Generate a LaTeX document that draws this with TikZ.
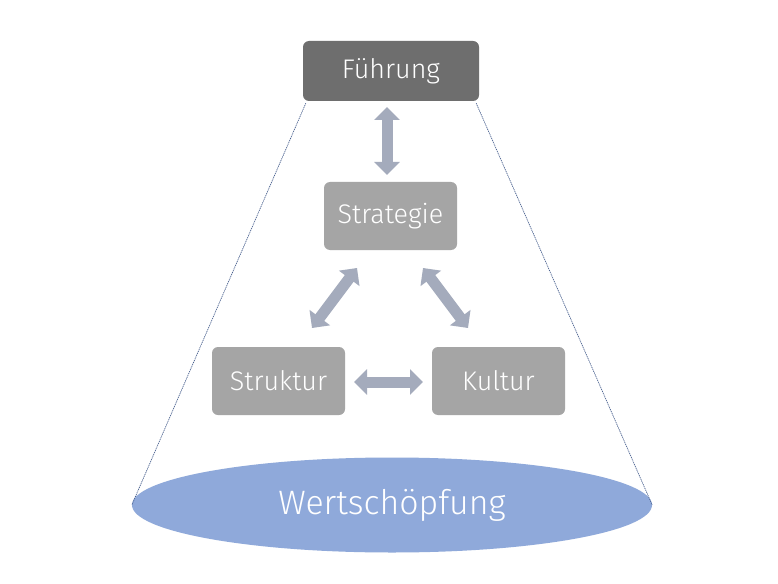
\documentclass[tikz,border=0pt]{standalone}
\usepackage{fontspec}
\setmainfont{Fira Sans}[UprightFont=* Light]
\usetikzlibrary{arrows.meta,shapes.geometric}
\definecolor{dark}{HTML}{6E6E6E}
\definecolor{mid}{HTML}{A5A5A5}
\definecolor{arr}{HTML}{A4ABBC}
\definecolor{ell}{HTML}{8FA9DA}
\definecolor{guide}{HTML}{4A6290}
\tikzset{
  box/.style={rounded corners=6bp, minimum width=133bp, minimum height=68bp, text=white, font=\fontsize{27}{32}\selectfont, inner sep=0pt},
  dbl/.style={arr, line width=11bp, {Triangle[length=13bp,width=25bp]}-{Triangle[length=13bp,width=25bp]}},
  guideline/.style={guide, line width=0.7bp, dash pattern=on 1.2bp off 0.8bp}
}
\begin{document}
\begin{tikzpicture}[x=1bp,y=-1bp]
\useasboundingbox (0,0) rectangle (778,584);
\fill[white] (0,0) rectangle (778,584);
\node[box, fill=dark, minimum width=176bp, minimum height=60bp] (fuehrung) at (391,71) {Führung};
\node[box, fill=mid] (strategie) at (390.5,216) {Strategie};
\node[box, fill=mid] (struktur) at (278.5,381) {Struktur};
\node[box, fill=mid] (kultur) at (498.5,381) {Kultur};
\node[ellipse, fill=ell, minimum width=520bp, minimum height=95bp, text=white, font=\fontsize{34}{40}\selectfont, inner sep=0pt] (wert) at (392,505) {Wertschöpfung};
\coordinate (a1) at (387,107);
\coordinate (a2) at (387,175);
\coordinate (b1) at (357,268);
\coordinate (b2) at (312,328);
\coordinate (c1) at (423,268);
\coordinate (c2) at (468,328);
\coordinate (d1) at (354,382);
\coordinate (d2) at (423,382);
\draw[dbl] (a1) -- (a2);
\draw[dbl] (b1) -- (b2);
\draw[dbl] (c1) -- (c2);
\draw[dbl] (d1) -- (d2);
\draw[guideline] ([xshift=3bp,yshift=-2bp]fuehrung.south west) -- (wert.west);
\draw[guideline] ([xshift=-3bp,yshift=-2bp]fuehrung.south east) -- (wert.east);
\end{tikzpicture}
\end{document}
